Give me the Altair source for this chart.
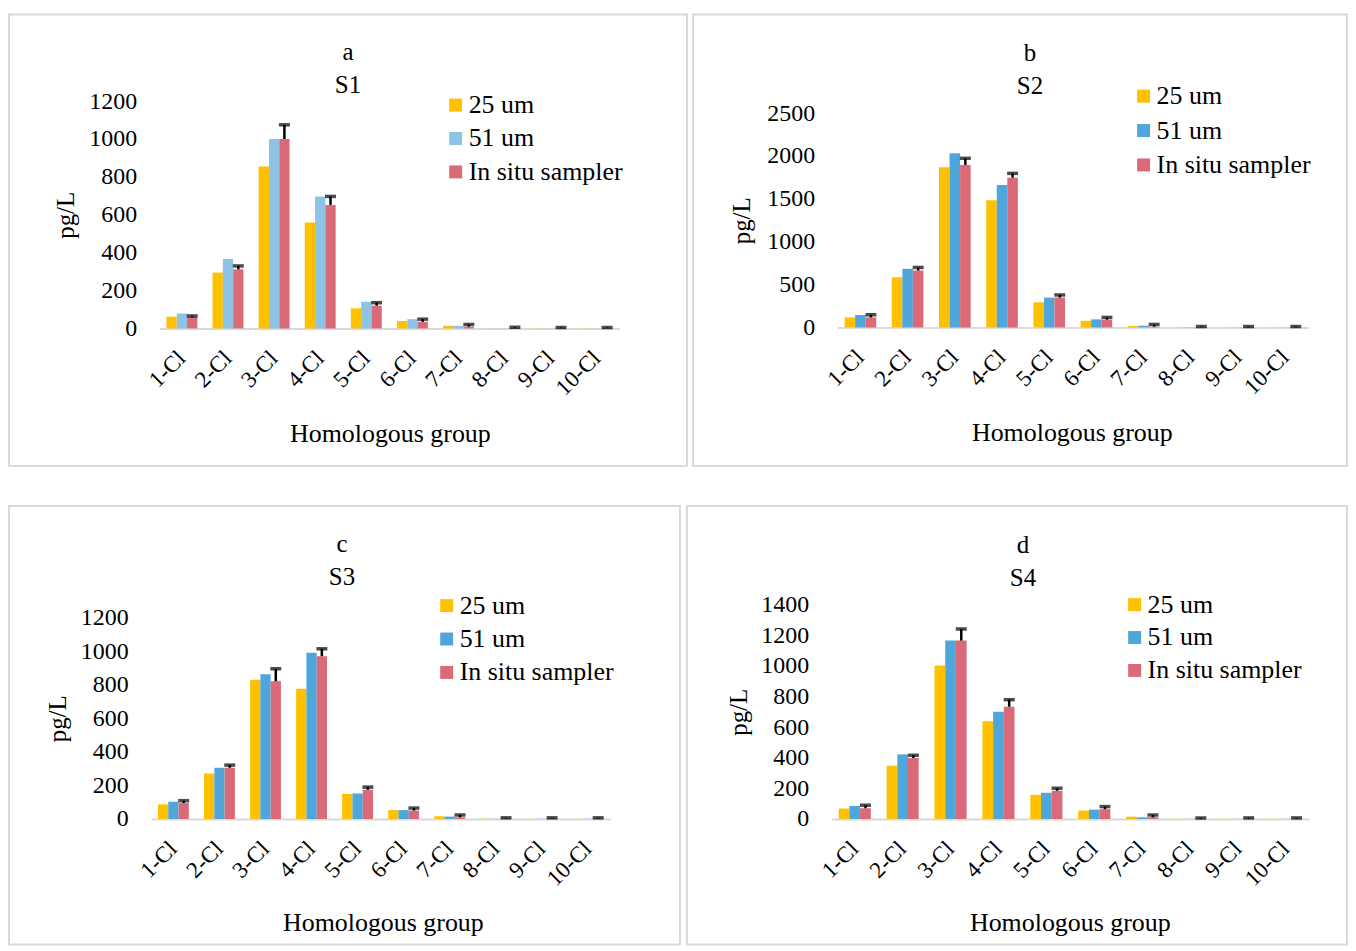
import altair as alt
import pandas as pd

FONT = "Liberation Serif"

categories = ["1-Cl", "2-Cl", "3-Cl", "4-Cl", "5-Cl", "6-Cl", "7-Cl", "8-Cl", "9-Cl", "10-Cl"]
series_names = ["25 um", "51 um", "In situ sampler"]

# S1 (panel a)
s1_25 = [62, 295, 855, 559, 106, 39, 14, 1, 1, 1]
s1_51 = [79, 367, 1000, 697, 141, 49, 14, 1, 1, 1]
s1_is = [60, 312, 1000, 652, 120, 35, 9, 2, 2, 2]
s1_err = [6, 18, 75, 45, 16, 14, 12, 4, 3, 3]

# S2 (panel b)
s2_25 = [117, 586, 1867, 1484, 293, 78, 16, 2, 1, 1]
s2_51 = [145, 684, 2031, 1660, 348, 94, 20, 2, 1, 1]
s2_is = [117, 664, 1895, 1746, 348, 90, 8, 3, 3, 3]
s2_err = [31, 36, 78, 51, 31, 27, 27, 8, 8, 8]

# S3 (panel c)
s3_25 = [87, 271, 830, 776, 149, 53, 16, 2, 1, 1]
s3_51 = [103, 305, 863, 990, 152, 53, 14, 1, 1, 1]
s3_is = [95, 305, 820, 970, 174, 50, 10, 3, 3, 3]
s3_err = [14, 16, 75, 44, 16, 15, 14, 4, 4, 4]

# S4 (panel d)
s4_25 = [68, 348, 1002, 639, 158, 55, 15, 1, 1, 1]
s4_51 = [85, 422, 1165, 700, 171, 61, 11, 1, 1, 1]
s4_is = [70, 398, 1165, 733, 184, 64, 11, 2, 2, 2]
s4_err = [20, 18, 76, 46, 17, 17, 15, 5, 5, 5]

YELLOW = "#FFC000"
LIGHTBLUE = "#8DC4E6"
BLUE = "#4EA6DA"
RED = "#DA6A77"


def build_panel(letter, site, v25, v51, vis, err, blue, ymax, ystep, w, h, g):
    rows = []
    for i, c in enumerate(categories):
        for s, v in zip(series_names, (v25[i], v51[i], vis[i])):
            rows.append({"cat": c, "series": s, "value": v})
    df = pd.DataFrame(rows)
    edf = pd.DataFrame({
        "cat": categories,
        "series": ["In situ sampler"] * len(categories),
        "lo": vis,
        "hi": [a + b for a, b in zip(vis, err)],
    })

    x_axis = alt.Axis(
        title="Homologous group", labelAngle=-45, labelAlign="right", labelBaseline="middle",
        labelPadding=26, labelFontSize=23, labelFont=FONT, labelColor="black",
        labelOverlap=False, ticks=False, grid=False,
        domainColor="#D9D9D9", domainWidth=2, offset=g["base"] - h,
        titleX=g["xtx"], titleY=g["xty"], titleAlign="center", titleBaseline="middle",
        titleFont=FONT, titleFontSize=26, titleFontWeight="normal", titleColor="black",
    )
    y_axis = alt.Axis(
        title="pg/L", values=list(range(0, ymax + 1, ystep)), format="d",
        labelFontSize=24, labelFont=FONT, labelColor="black", labelPadding=23,
        labelOverlap=False, ticks=False, domain=False, grid=False, offset=-g["x0"],
        titleX=g["ytx"], titleY=(g["base"] + g["top"]) / 2, titleAngle=-90,
        titleAlign="center", titleBaseline="middle",
        titleFont=FONT, titleFontSize=25, titleFontWeight="normal", titleColor="black",
    )
    x_scale = alt.Scale(domain=categories, range=[g["x0"], g["x1"]], paddingInner=0.33, paddingOuter=0.15)
    y_scale = alt.Scale(domain=[0, ymax], range=[g["base"], g["top"]], nice=False)
    xo_scale = alt.Scale(domain=series_names, paddingInner=0, paddingOuter=0)

    bars = alt.Chart(df).mark_bar().encode(
        x=alt.X("cat:N", scale=x_scale, axis=x_axis),
        xOffset=alt.XOffset("series:N", scale=xo_scale),
        y=alt.Y("value:Q", scale=y_scale, axis=y_axis),
        color=alt.Color(
            "series:N",
            scale=alt.Scale(domain=series_names, range=[YELLOW, blue, RED]),
            legend=alt.Legend(
                orient="none", legendX=g["lx"], legendY=g["ly"], title=None,
                symbolType="square", symbolSize=169, symbolStrokeWidth=0,
                labelFont=FONT, labelFontSize=26, labelColor="black",
                rowPadding=g["rp"], labelOffset=0, padding=0, labelLimit=400,
            ),
        ),
    )
    rule = alt.Chart(edf).mark_rule(color="black", strokeWidth=2.5).encode(
        x=alt.X("cat:N", scale=x_scale, axis=x_axis),
        xOffset=alt.XOffset("series:N", scale=xo_scale),
        y=alt.Y("lo:Q", scale=y_scale, axis=y_axis),
        y2="hi:Q",
    )
    cap = alt.Chart(edf).mark_tick(color="black", thickness=3.5, size=11).encode(
        x=alt.X("cat:N", scale=x_scale, axis=x_axis),
        xOffset=alt.XOffset("series:N", scale=xo_scale),
        y=alt.Y("hi:Q", scale=y_scale, axis=y_axis),
    )
    title = alt.Chart(pd.DataFrame({"t": [letter + "\n" + site]})).mark_text(
        font=FONT, fontSize=25, lineBreak="\n", lineHeight=33,
        align="center", baseline="alphabetic", color="black",
    ).encode(x=alt.value(g["tx"]), y=alt.value(g["ty"]), text="t:N")

    return alt.layer(bars, rule, cap, title).properties(width=w, height=h)


geo_a = dict(x0=151, x1=612, base=315, top=87, xtx=382, xty=105, ytx=-94,
             lx=435, ly=78, rp=7.5, tx=340, ty=46)
geo_b = dict(x0=145, x1=617, base=314, top=99, xtx=380, xty=105, ytx=-96,
             lx=439, ly=69, rp=8.5, tx=338, ty=47)
geo_c = dict(x0=142.5, x1=603, base=314, top=112, xtx=375, xty=104, ytx=-93.5,
             lx=426, ly=87, rp=7.5, tx=334, ty=46)
geo_d = dict(x0=145, x1=624, base=314, top=99, xtx=384, xty=104, ytx=-93,
             lx=436, ly=86, rp=7, tx=337, ty=47)

pa = build_panel("a", "S1", s1_25, s1_51, s1_is, s1_err, LIGHTBLUE, 1200, 200, 680, 453, geo_a)
pb = build_panel("b", "S2", s2_25, s2_51, s2_is, s2_err, BLUE, 2500, 500, 656, 453, geo_b)
pc = build_panel("c", "S3", s3_25, s3_51, s3_is, s3_err, BLUE, 1200, 200, 673, 440, geo_c)
pd_ = build_panel("d", "S4", s4_25, s4_51, s4_is, s4_err, BLUE, 1400, 200, 662, 440, geo_d)

top_row = alt.hconcat(pa, pb, spacing=4).resolve_scale(
    color="independent", x="independent", y="independent", xOffset="independent"
).resolve_legend(color="independent")
bottom_row = alt.hconcat(pc, pd_, spacing=5).resolve_scale(
    color="independent", x="independent", y="independent", xOffset="independent"
).resolve_legend(color="independent")

chart = alt.vconcat(top_row, bottom_row, spacing=38).resolve_scale(
    color="independent", x="independent", y="independent", xOffset="independent"
).resolve_legend(color="independent").properties(
    padding={"left": 0, "top": 4, "right": 0, "bottom": 0},
    background="white",
).configure_view(stroke="#D9D9D9", strokeWidth=2)

chart.save("out.html", embed_options={"renderer": "svg", "actions": False})
